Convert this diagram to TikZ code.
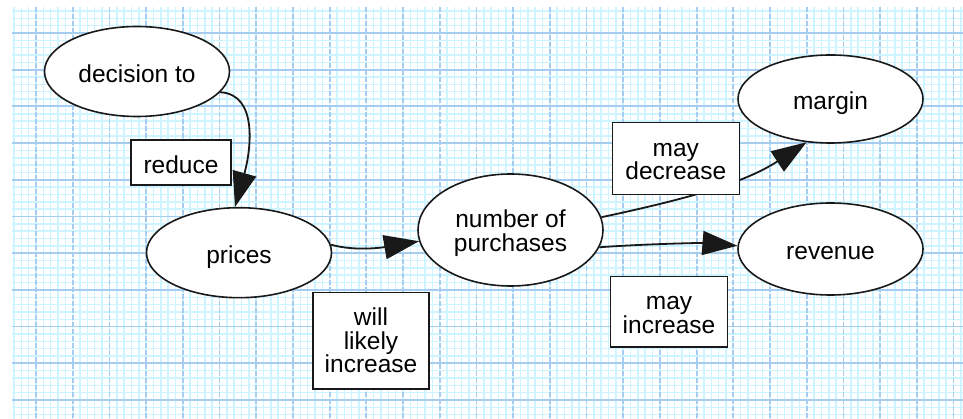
\documentclass[tikz,border=0pt]{standalone}
\usepackage{fontspec}
\setmainfont{Liberation Sans}
\usetikzlibrary{arrows.meta,shapes.geometric}
\definecolor{minorgrid}{RGB}{206,244,255}
\definecolor{majorgrid}{RGB}{166,204,240}
\definecolor{ink}{RGB}{25,25,25}

\begin{document}
\begin{tikzpicture}[x=1pt,y=-1pt,
  every node/.style={font=\fontsize{24.5}{23.5}\selectfont, text=black, inner sep=0pt},
  oval/.style={ellipse, draw=ink, line width=1.6pt, fill=white, minimum width=185pt, minimum height=90pt},
  labelbox/.style={rectangle, draw=ink, line width=1.6pt, fill=white, align=center},
  oneline/.style={text height=22pt, text depth=-7pt},
  twoline/.style={text height=43pt, text depth=-7pt},
  threeline/.style={text height=64pt, text depth=-7pt},
  link/.style={draw=ink, line width=1.8pt, -{Triangle[length=35pt,width=24pt]}},
  minorline/.style={minorgrid, line width=1.5pt},
  majorh/.style={majorgrid, line width=1.8pt},
  majorv/.style={majorgrid, line width=1.8pt, dash pattern=on 5pt off 2pt},
]
\useasboundingbox (0,0) rectangle (963,419);
\fill[white] (0,0) rectangle (963,419);

% graph paper
\begin{scope}
  \clip (12,7) rectangle (963,419);
  \foreach \i in {0,...,130} \draw[minorline] ({14+7.34*\i},7) -- ({14+7.34*\i},419);
  \foreach \j in {0,...,56} \draw[minorline] (12,{11+7.34*\j}) -- (963,{11+7.34*\j});
  \foreach \i in {0,...,25} \draw[majorv] ({36+36.7*\i},7) -- ({36+36.7*\i},419);
  \foreach \j in {0,...,10} \draw[majorh] (12,{33+36.7*\j}) -- (963,{33+36.7*\j});
\end{scope}

% concepts
\node[oval, oneline] (dec) at (137,71.5) {decision to};
\node[oval, oneline] (pri) at (239,252.7) {prices};
\node[oval, twoline, minimum height=112pt, align=center] (num) at (510.5,230) {number of\\purchases};
\node[oval, oneline, minimum height=88pt] (mar) at (830.5,99) {margin};
\node[oval, oneline, minimum height=92pt] (rev) at (830.5,249) {revenue};

\node[labelbox, oneline, minimum width=100pt, minimum height=45pt] (red) at (181,162.5) {reduce};

% links
\draw[link] (dec.-14) .. controls +(38,2) and +(16,-57) .. (pri.95);
\draw[link] (pri.5) .. controls +(25,7) and +(-35,6) .. (num.187);
\draw[link] (num.8) .. controls +(89,-19) and +(-61,40) .. (mar.241);
\draw[link] (num.-11) .. controls +(40,-3) and +(-38,-3) .. (rev.178);

% link labels
\node[labelbox, threeline, minimum width=116pt, minimum height=96pt] (wli) at (371,340.7) {will\\likely\\increase};
\node[labelbox, twoline, minimum width=127pt, minimum height=72pt] (mdec) at (675.8,158.5) {may\\decrease};
\node[labelbox, twoline, minimum width=117pt, minimum height=70pt] (minc) at (669,311.7) {may\\increase};
\end{tikzpicture}
\end{document}
